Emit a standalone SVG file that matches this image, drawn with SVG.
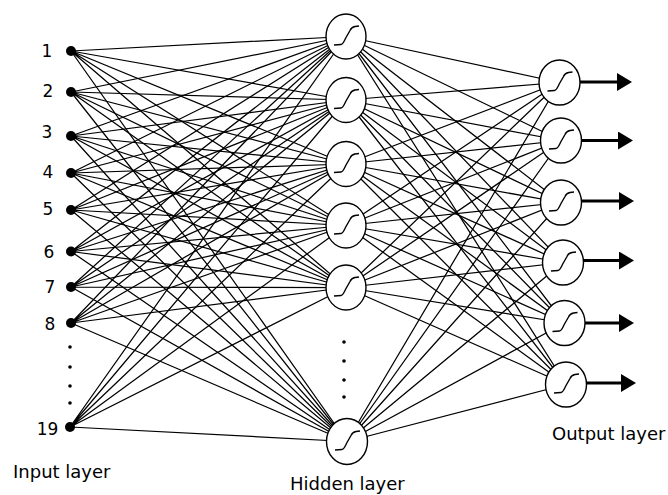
<svg xmlns="http://www.w3.org/2000/svg" width="668" height="495" viewBox="0 0 668 495">
  <style>
    .lbl { font-family: "DejaVu Sans", Verdana, sans-serif; font-size: 18px; fill: #000; }
    .num { font-family: "DejaVu Sans", Verdana, sans-serif; font-size: 17px; fill: #000; text-anchor: middle; }
    .link { stroke: #000; stroke-width: 1.25; fill: none; }
    .neuron { fill: #fff; stroke: #000; stroke-width: 1.4; }
    .sig { fill: none; stroke: #000; stroke-width: 1.4; }
    .in { fill: #000; }
    .dot { fill: #000; }
    .out { stroke: #000; stroke-width: 3; fill: none; marker-end: url(#head); }
  </style>
  <defs>
    <marker id="head" viewBox="0 0 15 18" markerWidth="15" markerHeight="18" refX="1" refY="9" orient="auto" markerUnits="userSpaceOnUse">
      <path d="M0,0 L15,9 L0,18 z" fill="#000"/>
    </marker>
    <!-- sigmoid transfer-function glyph, centred on the neuron -->
    <path id="sigmoid" class="sig" d="M-12,8.5 L-5,8 C-3,8 -2,5 0,1 L4,-6 C5,-8.5 6,-9.5 9,-10 L13,-10.5"/>
  </defs>
  <rect width="668" height="495" fill="#fff"/>

  <!-- weighted connections -->
  <g id="connectors">
    <!-- input layer to hidden layer -->
    <g class="link">
      <path d="M71,51 L346,36.5 M71,51 L346,100 M71,51 L346,164 M71,51 L346,225.5 M71,51 L346,287.5 M71,51 L347,441.5"/>
      <path d="M71,92 L346,36.5 M71,92 L346,100 M71,92 L346,164 M71,92 L346,225.5 M71,92 L346,287.5 M71,92 L347,441.5"/>
      <path d="M71,136 L346,36.5 M71,136 L346,100 M71,136 L346,164 M71,136 L346,225.5 M71,136 L346,287.5 M71,136 L347,441.5"/>
      <path d="M71,173 L346,36.5 M71,173 L346,100 M71,173 L346,164 M71,173 L346,225.5 M71,173 L346,287.5 M71,173 L347,441.5"/>
      <path d="M71,210 L346,36.5 M71,210 L346,100 M71,210 L346,164 M71,210 L346,225.5 M71,210 L346,287.5 M71,210 L347,441.5"/>
      <path d="M71,251.5 L346,36.5 M71,251.5 L346,100 M71,251.5 L346,164 M71,251.5 L346,225.5 M71,251.5 L346,287.5 M71,251.5 L347,441.5"/>
      <path d="M71,287 L346,36.5 M71,287 L346,100 M71,287 L346,164 M71,287 L346,225.5 M71,287 L346,287.5 M71,287 L347,441.5"/>
      <path d="M71,323 L346,36.5 M71,323 L346,100 M71,323 L346,164 M71,323 L346,225.5 M71,323 L346,287.5 M71,323 L347,441.5"/>
      <path d="M70,427 L346,36.5 M70,427 L346,100 M70,427 L346,164 M70,427 L346,225.5 M70,427 L346,287.5 M70,427 L347,441.5"/>
    </g>
    <!-- hidden layer to output layer -->
    <g class="link">
      <path d="M346,36.5 L559.5,82.5 M346,36.5 L561,140.5 M346,36.5 L561,202.5 M346,36.5 L563,262.5 M346,36.5 L564.5,323 M346,36.5 L566,384.5"/>
      <path d="M346,100 L559.5,82.5 M346,100 L561,140.5 M346,100 L561,202.5 M346,100 L563,262.5 M346,100 L564.5,323 M346,100 L566,384.5"/>
      <path d="M346,164 L559.5,82.5 M346,164 L561,140.5 M346,164 L561,202.5 M346,164 L563,262.5 M346,164 L564.5,323 M346,164 L566,384.5"/>
      <path d="M346,225.5 L559.5,82.5 M346,225.5 L561,140.5 M346,225.5 L561,202.5 M346,225.5 L563,262.5 M346,225.5 L564.5,323 M346,225.5 L566,384.5"/>
      <path d="M346,287.5 L559.5,82.5 M346,287.5 L561,140.5 M346,287.5 L561,202.5 M346,287.5 L563,262.5 M346,287.5 L564.5,323 M346,287.5 L566,384.5"/>
      <path d="M347,441.5 L559.5,82.5 M347,441.5 L561,140.5 M347,441.5 L561,202.5 M347,441.5 L563,262.5 M347,441.5 L564.5,323 M347,441.5 L566,384.5"/>
    </g>
    <!-- outputs -->
    <line class="out" x1="580" y1="82" x2="618" y2="82"/>
    <line class="out" x1="581" y1="140.5" x2="619" y2="140.5"/>
    <line class="out" x1="581" y1="201" x2="620" y2="201"/>
    <line class="out" x1="583" y1="260.5" x2="620" y2="260.5"/>
    <line class="out" x1="585" y1="323" x2="620" y2="323"/>
    <line class="out" x1="586" y1="383" x2="622" y2="383"/>
  </g>

  <!-- input layer -->
  <g id="in1"><circle class="in" cx="71" cy="51" r="5"/><text class="num" x="47" y="57">1</text></g>
  <g id="in2"><circle class="in" cx="71" cy="92" r="5"/><text class="num" x="48" y="97">2</text></g>
  <g id="in3"><circle class="in" cx="71" cy="136" r="5"/><text class="num" x="47" y="138">3</text></g>
  <g id="in4"><circle class="in" cx="71" cy="173" r="5"/><text class="num" x="48" y="178">4</text></g>
  <g id="in5"><circle class="in" cx="71" cy="210" r="5"/><text class="num" x="48" y="215">5</text></g>
  <g id="in6"><circle class="in" cx="71" cy="251.5" r="5"/><text class="num" x="49" y="258">6</text></g>
  <g id="in7"><circle class="in" cx="71" cy="287" r="5"/><text class="num" x="50" y="293">7</text></g>
  <g id="in8"><circle class="in" cx="71" cy="323" r="5"/><text class="num" x="50" y="330">8</text></g>
  <g id="in-ellipsis">
    <circle class="dot" cx="70" cy="347" r="1.8"/>
    <circle class="dot" cx="70" cy="367" r="1.8"/>
    <circle class="dot" cx="70" cy="386" r="1.8"/>
    <circle class="dot" cx="70" cy="403" r="1.8"/>
  </g>
  <g id="in19"><circle class="in" cx="70" cy="427" r="5"/><text class="num" x="47.5" y="435">19</text></g>
  <text id="input-label" class="lbl" x="13" y="478">Input layer</text>

  <!-- hidden layer -->
  <g id="h1"><ellipse class="neuron" cx="346" cy="36.5" rx="20" ry="22.5"/><use href="#sigmoid" x="346" y="36.5"/></g>
  <g id="h2"><ellipse class="neuron" cx="346" cy="100" rx="20" ry="22.5"/><use href="#sigmoid" x="346" y="100"/></g>
  <g id="h3"><ellipse class="neuron" cx="346" cy="164" rx="20" ry="22.5"/><use href="#sigmoid" x="346" y="164"/></g>
  <g id="h4"><ellipse class="neuron" cx="346" cy="225.5" rx="20" ry="22.5"/><use href="#sigmoid" x="346" y="225.5"/></g>
  <g id="h5"><ellipse class="neuron" cx="346" cy="287.5" rx="20" ry="22.5"/><use href="#sigmoid" x="346" y="287.5"/></g>
  <g id="h-ellipsis">
    <circle class="dot" cx="344" cy="342" r="1.8"/>
    <circle class="dot" cx="344" cy="361" r="1.8"/>
    <circle class="dot" cx="344" cy="380" r="1.8"/>
    <circle class="dot" cx="344" cy="397" r="1.8"/>
  </g>
  <g id="h6"><ellipse class="neuron" cx="347" cy="441.5" rx="20.5" ry="23"/><use href="#sigmoid" x="347" y="441.5"/></g>
  <text id="hidden-label" class="lbl" x="290" y="490">Hidden layer</text>

  <!-- output layer -->
  <g id="o1"><ellipse class="neuron" cx="559.5" cy="82.5" rx="20.5" ry="22.5"/><use href="#sigmoid" x="559.5" y="82.5"/></g>
  <g id="o2"><ellipse class="neuron" cx="561" cy="140.5" rx="20.5" ry="22.5"/><use href="#sigmoid" x="561" y="140.5"/></g>
  <g id="o3"><ellipse class="neuron" cx="561" cy="202.5" rx="20.5" ry="22.5"/><use href="#sigmoid" x="561" y="202.5"/></g>
  <g id="o4"><ellipse class="neuron" cx="563" cy="262.5" rx="20.5" ry="22.5"/><use href="#sigmoid" x="563" y="262.5"/></g>
  <g id="o5"><ellipse class="neuron" cx="564.5" cy="323" rx="20.5" ry="22.5"/><use href="#sigmoid" x="564.5" y="323"/></g>
  <g id="o6"><ellipse class="neuron" cx="566" cy="384.5" rx="20.5" ry="22.5"/><use href="#sigmoid" x="566" y="384.5"/></g>
  <text id="output-label" class="lbl" x="552" y="440">Output layer</text>
</svg>
